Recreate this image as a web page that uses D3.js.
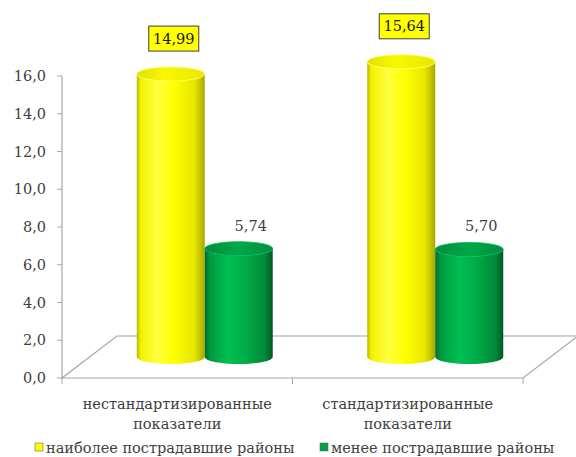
<!DOCTYPE html>
<html>
<head>
<meta charset="utf-8">
<script src="https://cdn.jsdelivr.net/npm/d3@7"></script>
<style>
  body { margin: 0; background: #fff; }
</style>
</head>
<body>
<svg id="chart" width="576" height="457"></svg>
<script>
// data
var categories = ['нестандартизированные\nпоказатели', 'стандартизированные\nпоказатели'];
var seriesNames = ['наиболее пострадавшие районы', 'менее пострадавшие районы'];
var mostAffected = [14.99, 15.64];
var lessAffected = [5.74, 5.70];
var yTicks = [0, 2, 4, 6, 8, 10, 12, 14, 16];

(function () {
var FONT = 'DejaVu Serif';
var svg = d3.select('#chart');

var plotLeft = 62, plotRight = 523, plotBottom = 378, plotTop = 76;
// depth of the 3d floor (back edge offset)
var depth = { dx: 55, dy: -42 };
var mid = { dx: depth.dx / 2, dy: depth.dy / 2 };

var ru = d3.formatLocale({ decimal: ',', thousands: ' ', grouping: [3], currency: ['', ''] });
var fmt1 = ru.format('.1f'), fmt2 = ru.format('.2f');

var y = d3.scaleLinear().domain([0, 16]).range([plotBottom, plotTop]);
var x0 = d3.scaleBand().domain(d3.range(categories.length)).range([plotLeft, plotRight])
    .paddingInner(0.41).paddingOuter(0.205);
var x1 = d3.scaleBand().domain([0, 1]).range([0, x0.bandwidth()]);

var series = [
    { name: seriesNames[0], values: mostAffected, grad: 'gYellow', top: 'tYellow', key: '#ffff00' },
    { name: seriesNames[1], values: lessAffected, grad: 'gGreen', top: 'tGreen', key: '#00a046' }
];

// gradients
var defs = svg.append('defs');
function hGrad(id, stops) {
    var g = defs.append('linearGradient').attr('id', id)
        .attr('x1', 0).attr('x2', 1).attr('y1', 0).attr('y2', 0);
    stops.forEach(function (s) {
        g.append('stop').attr('offset', s[0]).attr('stop-color', s[1]);
    });
}
hGrad('gYellow', [[0, '#b8b800'], [0.06, '#f2f200'], [0.3, '#ffff40'], [0.55, '#ffff00'], [0.85, '#e6e600'], [1, '#a8a800']]);
hGrad('tYellow', [[0, '#e0e000'], [0.4, '#f8f800'], [1, '#e8e800']]);
hGrad('gGreen', [[0, '#006a2c'], [0.08, '#009a40'], [0.35, '#00c052'], [0.6, '#00ac48'], [0.88, '#008a3a'], [1, '#005a25']]);
hGrad('tGreen', [[0, '#008c3c'], [0.5, '#00a848'], [1, '#009040']]);

// floor
var floor = [[plotLeft, plotBottom], [plotRight, plotBottom],
    [plotRight + depth.dx, plotBottom + depth.dy], [plotLeft + depth.dx, plotBottom + depth.dy]];
svg.append('path')
    .attr('d', 'M' + floor.join('L') + 'Z')
    .attr('fill', '#fff')
    .attr('stroke', '#a6a6a6')
    .attr('stroke-width', 1.2);

// value axis
var axis = svg.append('g').attr('class', 'y-axis');
axis.append('line')
    .attr('x1', plotLeft).attr('x2', plotLeft).attr('y1', y(16)).attr('y2', y(0))
    .attr('stroke', '#a6a6a6').attr('stroke-width', 1.2);
axis.selectAll('.tick').data(yTicks).enter().append('line')
    .attr('x1', plotLeft - 5).attr('x2', plotLeft).attr('y1', function (d) { return y(d) }).attr('y2', function (d) { return y(d) })
    .attr('stroke', '#a6a6a6');
axis.selectAll('.lbl').data(yTicks).enter().append('text')
    .attr('font-family', FONT)
    .attr('x', plotLeft - 16).attr('y', function (d) { return y(d) + 5 })
    .attr('text-anchor', 'end')
    .attr('font-size', 14.5)
    .attr('fill', '#404040')
    .text(function (d) { return fmt1(d) });

// category axis ticks
var bounds = [plotLeft, (plotLeft + plotRight) / 2, plotRight];
svg.selectAll('.ctick').data(bounds).enter().append('line')
    .attr('x1', function (d) { return d }).attr('x2', function (d) { return d })
    .attr('y1', plotBottom).attr('y2', plotBottom + 6)
    .attr('stroke', '#a6a6a6');

// category labels
svg.selectAll('.cat').data(categories).enter().append('text')
    .attr('font-family', FONT)
    .attr('class', 'cat')
    .attr('text-anchor', 'middle')
    .attr('font-size', 14.5)
    .attr('fill', '#404040')
    .attr('transform', function (d, i) { return 'translate(' + (x0(i) + x0.bandwidth() / 2) + ',' + 409 + ')' })
    .each(function (d) {
        var arr = d.split('\n');
        for (var i = 0; i < arr.length; i++) {
            d3.select(this).append('tspan').text(arr[i])
                .attr('x', 0).attr('dy', i ? 20 : 0);
        }
    });

// cylinders
var ry = 7;
var rx = x1.bandwidth() / 2;
categories.forEach(function (c, ci) {
    series.forEach(function (s, si) {
        var v = s.values[ci];
        var cx = x0(ci) + x1(si) + rx + mid.dx;
        var yb = y(0) + mid.dy, yt = y(v) + mid.dy;
        var g = svg.append('g').attr('class', 'cyl');
        g.append('path')
            .attr('d', 'M' + (cx - rx) + ',' + yt + 'L' + (cx - rx) + ',' + yb +
                'A' + rx + ',' + ry + ' 0 0 0 ' + (cx + rx) + ',' + yb +
                'L' + (cx + rx) + ',' + yt +
                'A' + rx + ',' + ry + ' 0 0 1 ' + (cx - rx) + ',' + yt + 'Z')
            .attr('fill', 'url(#' + s.grad + ')');
        g.append('ellipse')
            .attr('cx', cx).attr('cy', yt).attr('rx', rx).attr('ry', ry)
            .attr('fill', 'url(#' + s.top + ')')
            .attr('stroke', si ? '#00b850' : '#ffff60').attr('stroke-width', 0.8);

        // data labels
        var txt = fmt2(v);
        if (si === 0) {
            var bw = 50, bh = 25;
            var by = yt - ry - 16 - bh;
            g.append('rect')
                .attr('x', cx + 3 - bw / 2).attr('y', by).attr('width', bw).attr('height', bh)
                .attr('fill', '#ffff00').attr('stroke', '#404040').attr('stroke-width', 1);
            g.append('text')
                .attr('font-family', FONT)
                .attr('x', cx + 3).attr('y', by + bh / 2 + 5)
                .attr('text-anchor', 'middle').attr('font-size', 14.5).attr('fill', '#1a1a1a')
                .text(txt);
        } else {
            g.append('text')
                .attr('font-family', FONT)
                .attr('x', cx + 12).attr('y', yt - 18)
                .attr('text-anchor', 'middle').attr('font-size', 14.5).attr('fill', '#404040')
                .text(txt);
        }
    });
});

// legend
var legendX = [35, 320];
var leg = svg.selectAll('.leg').data(series).enter().append('g')
    .attr('transform', function (d, i) { return 'translate(' + legendX[i] + ',443)' });
leg.append('rect').attr('width', 8).attr('height', 8)
    .attr('fill', function (d) { return d.key }).attr('stroke', '#6a6a6a').attr('stroke-width', 0.6);
leg.append('text').attr('font-family', FONT).attr('x', 11).attr('y', 10)
    .attr('font-size', 14.5).attr('fill', '#404040')
    .text(function (d) { return d.name });
})();
</script>
</body>
</html>
